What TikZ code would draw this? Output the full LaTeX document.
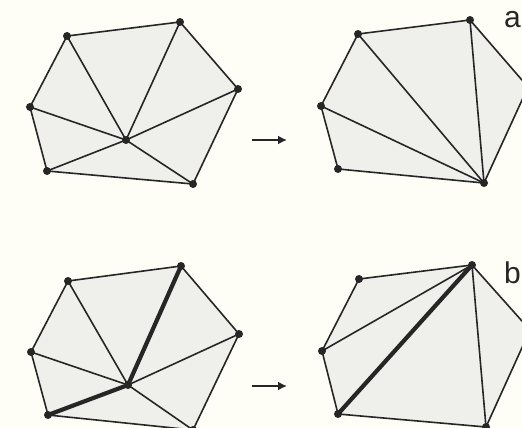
\documentclass[tikz,border=0pt]{standalone}
\usepackage{fontspec}
\setsansfont{Liberation Sans}
\usetikzlibrary{arrows.meta}
\definecolor{paper}{HTML}{FEFEF6}
\definecolor{facet}{HTML}{EFEFEB}
\definecolor{ink}{HTML}{262626}

\begin{document}
\begin{tikzpicture}[x=1pt, y=-1pt,
  mesh/.style={draw=ink, line width=1.6pt, line join=round},
  heavy/.style={draw=ink, line width=4.2pt, line cap=round},
  swaparrow/.style={draw=ink, line width=2.6pt, -{Latex[length=9pt,width=9pt]}},
  dot/.style={fill=ink},
  partname/.style={font=\fontsize{30}{30}\selectfont\sffamily, text=ink, inner sep=0pt, anchor=base west}]
\fill[paper] (0,0) rectangle (522,428);
\useasboundingbox (0,0) rectangle (522,428);

% a: before removing the inner point
\coordinate (p1a) at (67,36);
\coordinate (p1b) at (180,22);
\coordinate (p1c) at (238,89);
\coordinate (p1d) at (193,184);
\coordinate (p1e) at (47,171);
\coordinate (p1f) at (30,107);
\coordinate (p1g) at (126,140);
\filldraw[mesh, fill=facet] (p1a) -- (p1b) -- (p1c) -- (p1d) -- (p1e) -- (p1f) -- cycle;
\draw[mesh] (p1g) -- (p1a);
\draw[mesh] (p1g) -- (p1b);
\draw[mesh] (p1g) -- (p1c);
\draw[mesh] (p1g) -- (p1d);
\draw[mesh] (p1g) -- (p1e);
\draw[mesh] (p1g) -- (p1f);
\foreach \v in {p1a,p1b,p1c,p1d,p1e,p1f,p1g}
  \fill[dot] (\v) circle (4pt);

% a: after, fan from the lower corner
\coordinate (p2a) at (358,34);
\coordinate (p2b) at (470,20);
\coordinate (p2c) at (528,87);
\coordinate (p2d) at (484,183);
\coordinate (p2e) at (338,169);
\coordinate (p2f) at (321,106);
\filldraw[mesh, fill=facet] (p2a) -- (p2b) -- (p2c) -- (p2d) -- (p2e) -- (p2f) -- cycle;
\draw[mesh] (p2d) -- (p2a);
\draw[mesh] (p2d) -- (p2b);
\draw[mesh] (p2d) -- (p2f);
\foreach \v in {p2a,p2b,p2c,p2d,p2e,p2f}
  \fill[dot] (\v) circle (4pt);

\coordinate (fa1) at (252,140);
\coordinate (fa2) at (287,140);
\draw[swaparrow] (fa1) -- (fa2);
\node[partname] (parta) at (504,28) {a};

% b: before, with the bold path
\coordinate (p3a) at (68,281);
\coordinate (p3b) at (181,266);
\coordinate (p3c) at (239,334);
\coordinate (p3d) at (193,430);
\coordinate (p3e) at (48,415);
\coordinate (p3f) at (31,352);
\coordinate (p3g) at (128,385);
\filldraw[mesh, fill=facet] (p3a) -- (p3b) -- (p3c) -- (p3d) -- (p3e) -- (p3f) -- cycle;
\draw[mesh] (p3g) -- (p3a);
\draw[mesh] (p3g) -- (p3c);
\draw[mesh] (p3g) -- (p3d);
\draw[mesh] (p3g) -- (p3f);
\draw[heavy] (p3b) -- (p3g) -- (p3e);
\foreach \v in {p3a,p3b,p3c,p3d,p3e,p3f,p3g}
  \fill[dot] (\v) circle (4pt);

% b: after, bold diagonal
\coordinate (p4a) at (359,279);
\coordinate (p4b) at (472,265);
\coordinate (p4c) at (530,330);
\coordinate (p4d) at (486,427);
\coordinate (p4e) at (338,414);
\coordinate (p4f) at (322,351);
\filldraw[mesh, fill=facet] (p4a) -- (p4b) -- (p4c) -- (p4d) -- (p4e) -- (p4f) -- cycle;
\draw[mesh] (p4b) -- (p4f);
\draw[mesh] (p4b) -- (p4d);
\draw[heavy] (p4b) -- (p4e);
\foreach \v in {p4a,p4b,p4c,p4d,p4e,p4f}
  \fill[dot] (\v) circle (4pt);

\coordinate (fb1) at (252,386);
\coordinate (fb2) at (287,386);
\draw[swaparrow] (fb1) -- (fb2);
\node[partname] (partb) at (504,283) {b};
\end{tikzpicture}
\end{document}
